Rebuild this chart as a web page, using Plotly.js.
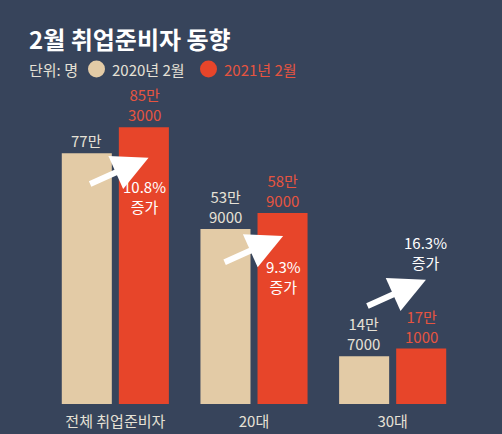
<!DOCTYPE html>
<html><head><meta charset="utf-8">
<script src="https://cdn.plot.ly/plotly-3.0.1.min.js"></script>
<style>html,body{margin:0;padding:0;background:#37445b;}</style>
</head><body>
<div id="chart" style="width:502px;height:434px;"></div>
<script>
const categories = ['전체 취업준비자', '20대', '30대'];
const values2020 = [773000, 539000, 147000];
const values2021 = [853000, 589000, 171000];
const labels2020 = ['77만', '53만<br>9000', '14만<br>7000'];
const labels2021 = ['85만<br>3000', '58만<br>9000', '17만<br>1000'];
const growthLabels = ['10.8%<br>증가', '9.3%<br>증가', '16.3%<br>증가'];
const seriesNames = ['2020년 2월', '2021년 2월'];

const BG = '#37445b', BEIGE = '#e3cba6', RED = '#e7452a', RED_TXT = '#e65440', LIGHT = '#e6e1d6';
const FONT = '"Noto Sans CJK KR", "Noto Sans", sans-serif';
const idx = categories.map((_, i) => i);

// figure geometry helpers (plot area: x 46..462, y 112..404)
const L = 46, R = 40, T = 112, B = 30, W = 502, H = 434;
const px = x => (x - L) / (W - L - R);
const py = y => (H - B - y) / (H - B - T);

const traces = [
  {type: 'bar', x: idx, y: values2020, name: seriesNames[0], marker: {color: BEIGE}, hoverinfo: 'none', showlegend: false},
  {type: 'bar', x: idx, y: values2021, name: seriesNames[1], marker: {color: RED}, hoverinfo: 'none', showlegend: false}
];

const ann = [];
const off = 0.207; // bar centre offset within group
idx.forEach(i => {
  ann.push({x: i - off, y: values2020[i], xref: 'x', yref: 'y', text: labels2020[i], showarrow: false,
    yanchor: 'bottom', yshift: 0, font: {family: FONT, size: 15, color: LIGHT}});
  ann.push({x: i + off, y: values2021[i], xref: 'x', yref: 'y', text: labels2021[i], showarrow: false,
    yanchor: 'bottom', yshift: 0, font: {family: FONT, size: 15, color: RED_TXT}});
});
// growth arrows
const arrowTips = [[0.24, 759000], [1.21, 518000], [2.24, 383000]];
arrowTips.forEach(t => {
  ann.push({x: t[0], y: t[1], xref: 'x', yref: 'y', ax: -60, ay: 27, showarrow: true,
    arrowhead: 2, arrowsize: 1.2, arrowwidth: 6, arrowcolor: '#ffffff', text: ''});
});
const growthPos = [[0.21, 640000], [1.21, 392000], [2.24, 468000]];
growthPos.forEach((p, i) => {
  ann.push({x: p[0], y: p[1], xref: 'x', yref: 'y', text: growthLabels[i], showarrow: false,
    font: {family: FONT, size: 15, color: '#ffffff'}, align: 'center'});
});
// title and legend
ann.push({x: px(27), y: py(38), xref: 'paper', yref: 'paper', xanchor: 'left', yanchor: 'middle',
  text: '<b>2월 취업준비자 동향</b>', showarrow: false, font: {family: FONT, size: 24, color: '#ffffff'}});
ann.push({x: px(27), y: py(69), xref: 'paper', yref: 'paper', xanchor: 'left', yanchor: 'middle',
  text: '단위: 명', showarrow: false, font: {family: FONT, size: 15, color: LIGHT}});
ann.push({x: px(110), y: py(69), xref: 'paper', yref: 'paper', xanchor: 'left', yanchor: 'middle',
  text: seriesNames[0], showarrow: false, font: {family: FONT, size: 15, color: LIGHT}});
ann.push({x: px(222), y: py(69), xref: 'paper', yref: 'paper', xanchor: 'left', yanchor: 'middle',
  text: seriesNames[1], showarrow: false, font: {family: FONT, size: 15, color: RED_TXT}});

const shapes = [
  {type: 'circle', xref: 'paper', yref: 'paper', x0: px(88), x1: px(105), y0: py(77.5), y1: py(60.5),
    fillcolor: BEIGE, line: {width: 0}},
  {type: 'circle', xref: 'paper', yref: 'paper', x0: px(200), x1: px(217), y0: py(77.5), y1: py(60.5),
    fillcolor: RED, line: {width: 0}}
];

const layout = {
  width: W, height: H,
  paper_bgcolor: BG, plot_bgcolor: BG,
  margin: {l: L, r: R, t: T, b: B},
  barmode: 'group', bargap: 0.177, bargroupgap: 0.123,
  xaxis: {type: 'linear', range: [-0.5, 2.5], tickmode: 'array', tickvals: idx, ticktext: categories,
    showgrid: false, zeroline: false, showline: false, ticks: '', ticklabelstandoff: 7,
    tickfont: {family: FONT, size: 15, color: LIGHT}},
  yaxis: {range: [0, 900000], visible: false, showgrid: false, zeroline: false},
  annotations: ann, shapes: shapes, showlegend: false
};
Plotly.newPlot('chart', traces, layout, {displayModeBar: false, staticPlot: true});
</script>
</body></html>
